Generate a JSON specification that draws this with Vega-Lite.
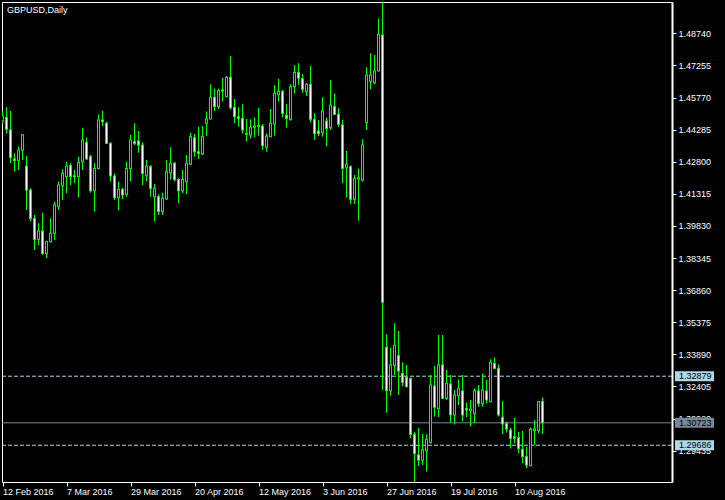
{
  "$schema": "https://vega.github.io/schema/vega-lite/v6.json",
  "width": 670,
  "height": 480,
  "autosize": "none",
  "padding": {"left": 2, "top": 2, "right": 53, "bottom": 18},
  "background": "black",
  "title": {"text": "GBPUSD,Daily", "anchor": "start", "frame": "group", "color": "white", "font": "Liberation Sans", "fontSize": 9, "fontWeight": "normal", "offset": -13, "dx": 5},
  "config": {
    "view": {"stroke": "white", "strokeWidth": 1},
    "axis": {"labelColor": "white", "tickColor": "white", "domainColor": "white", "labelFont": "Liberation Sans", "labelFontSize": 9, "grid": false, "title": null, "labelOverlap": false}
  },
  "datasets": {
    "bars": [
      {"date": "12 Feb 2016", "open": 1.4470, "high": 1.4512, "low": 1.4454, "close": 1.4491},
      {"date": "15 Feb 2016", "open": 1.4485, "high": 1.4532, "low": 1.4411, "close": 1.4430},
      {"date": "16 Feb 2016", "open": 1.4427, "high": 1.4515, "low": 1.4273, "close": 1.4300},
      {"date": "17 Feb 2016", "open": 1.4293, "high": 1.4319, "low": 1.4234, "close": 1.4285},
      {"date": "18 Feb 2016", "open": 1.4286, "high": 1.4350, "low": 1.4242, "close": 1.4334},
      {"date": "19 Feb 2016", "open": 1.4334, "high": 1.4408, "low": 1.4288, "close": 1.4404},
      {"date": "22 Feb 2016", "open": 1.4260, "high": 1.4306, "low": 1.4057, "close": 1.4149},
      {"date": "23 Feb 2016", "open": 1.4149, "high": 1.4157, "low": 1.4003, "close": 1.4018},
      {"date": "24 Feb 2016", "open": 1.4018, "high": 1.4034, "low": 1.3872, "close": 1.3921},
      {"date": "25 Feb 2016", "open": 1.3921, "high": 1.3995, "low": 1.3895, "close": 1.3960},
      {"date": "26 Feb 2016", "open": 1.3960, "high": 1.4044, "low": 1.3849, "close": 1.3856},
      {"date": "29 Feb 2016", "open": 1.3856, "high": 1.3915, "low": 1.3833, "close": 1.3910},
      {"date": "1 Mar 2016", "open": 1.3910, "high": 1.4018, "low": 1.3906, "close": 1.3949},
      {"date": "2 Mar 2016", "open": 1.3949, "high": 1.4095, "low": 1.3918, "close": 1.4080},
      {"date": "3 Mar 2016", "open": 1.4072, "high": 1.4188, "low": 1.4057, "close": 1.4172},
      {"date": "4 Mar 2016", "open": 1.4169, "high": 1.4245, "low": 1.4103, "close": 1.4226},
      {"date": "7 Mar 2016", "open": 1.4211, "high": 1.4280, "low": 1.4134, "close": 1.4260},
      {"date": "8 Mar 2016", "open": 1.4262, "high": 1.4273, "low": 1.4172, "close": 1.4211},
      {"date": "9 Mar 2016", "open": 1.4215, "high": 1.4242, "low": 1.4180, "close": 1.4211},
      {"date": "10 Mar 2016", "open": 1.4211, "high": 1.4303, "low": 1.4114, "close": 1.4277},
      {"date": "11 Mar 2016", "open": 1.4280, "high": 1.4437, "low": 1.4242, "close": 1.4380},
      {"date": "14 Mar 2016", "open": 1.4370, "high": 1.4391, "low": 1.4288, "close": 1.4293},
      {"date": "15 Mar 2016", "open": 1.4303, "high": 1.4311, "low": 1.4137, "close": 1.4146},
      {"date": "16 Mar 2016", "open": 1.4146, "high": 1.4273, "low": 1.4049, "close": 1.4249},
      {"date": "17 Mar 2016", "open": 1.4249, "high": 1.4499, "low": 1.4245, "close": 1.4473},
      {"date": "18 Mar 2016", "open": 1.4473, "high": 1.4515, "low": 1.4445, "close": 1.4465},
      {"date": "21 Mar 2016", "open": 1.4458, "high": 1.4465, "low": 1.4362, "close": 1.4365},
      {"date": "22 Mar 2016", "open": 1.4365, "high": 1.4370, "low": 1.4188, "close": 1.4214},
      {"date": "23 Mar 2016", "open": 1.4214, "high": 1.4226, "low": 1.4103, "close": 1.4115},
      {"date": "24 Mar 2016", "open": 1.4115, "high": 1.4188, "low": 1.4054, "close": 1.4152},
      {"date": "25 Mar 2016", "open": 1.4152, "high": 1.4160, "low": 1.4106, "close": 1.4126},
      {"date": "28 Mar 2016", "open": 1.4129, "high": 1.4280, "low": 1.4118, "close": 1.4249},
      {"date": "29 Mar 2016", "open": 1.4249, "high": 1.4404, "low": 1.4188, "close": 1.4380},
      {"date": "30 Mar 2016", "open": 1.4373, "high": 1.4458, "low": 1.4357, "close": 1.4365},
      {"date": "31 Mar 2016", "open": 1.4376, "high": 1.4422, "low": 1.4322, "close": 1.4357},
      {"date": "1 Apr 2016", "open": 1.4357, "high": 1.4370, "low": 1.4172, "close": 1.4226},
      {"date": "4 Apr 2016", "open": 1.4215, "high": 1.4288, "low": 1.4188, "close": 1.4260},
      {"date": "5 Apr 2016", "open": 1.4257, "high": 1.4265, "low": 1.4118, "close": 1.4157},
      {"date": "6 Apr 2016", "open": 1.4118, "high": 1.4177, "low": 1.4003, "close": 1.4157},
      {"date": "7 Apr 2016", "open": 1.4118, "high": 1.4129, "low": 1.4034, "close": 1.4049},
      {"date": "8 Apr 2016", "open": 1.4049, "high": 1.4137, "low": 1.4034, "close": 1.4111},
      {"date": "11 Apr 2016", "open": 1.4108, "high": 1.4288, "low": 1.4103, "close": 1.4234},
      {"date": "12 Apr 2016", "open": 1.4229, "high": 1.4347, "low": 1.4198, "close": 1.4273},
      {"date": "13 Apr 2016", "open": 1.4273, "high": 1.4280, "low": 1.4188, "close": 1.4198},
      {"date": "14 Apr 2016", "open": 1.4198, "high": 1.4203, "low": 1.4088, "close": 1.4146},
      {"date": "15 Apr 2016", "open": 1.4146, "high": 1.4242, "low": 1.4134, "close": 1.4198},
      {"date": "18 Apr 2016", "open": 1.4188, "high": 1.4311, "low": 1.4129, "close": 1.4273},
      {"date": "19 Apr 2016", "open": 1.4269, "high": 1.4414, "low": 1.4265, "close": 1.4396},
      {"date": "20 Apr 2016", "open": 1.4391, "high": 1.4408, "low": 1.4303, "close": 1.4326},
      {"date": "21 Apr 2016", "open": 1.4326, "high": 1.4442, "low": 1.4293, "close": 1.4319},
      {"date": "22 Apr 2016", "open": 1.4316, "high": 1.4445, "low": 1.4311, "close": 1.4396},
      {"date": "25 Apr 2016", "open": 1.4458, "high": 1.4512, "low": 1.4399, "close": 1.4478},
      {"date": "26 Apr 2016", "open": 1.4478, "high": 1.4638, "low": 1.4476, "close": 1.4578},
      {"date": "27 Apr 2016", "open": 1.4578, "high": 1.4619, "low": 1.4515, "close": 1.4535},
      {"date": "28 Apr 2016", "open": 1.4535, "high": 1.4619, "low": 1.4524, "close": 1.4609},
      {"date": "29 Apr 2016", "open": 1.4612, "high": 1.4669, "low": 1.4558, "close": 1.4607},
      {"date": "2 May 2016", "open": 1.4581, "high": 1.4676, "low": 1.4578, "close": 1.4670},
      {"date": "3 May 2016", "open": 1.4670, "high": 1.4769, "low": 1.4522, "close": 1.4530},
      {"date": "4 May 2016", "open": 1.4532, "high": 1.4570, "low": 1.4458, "close": 1.4488},
      {"date": "5 May 2016", "open": 1.4488, "high": 1.4532, "low": 1.4442, "close": 1.4481},
      {"date": "6 May 2016", "open": 1.4481, "high": 1.4547, "low": 1.4411, "close": 1.4427},
      {"date": "9 May 2016", "open": 1.4411, "high": 1.4478, "low": 1.4373, "close": 1.4407},
      {"date": "10 May 2016", "open": 1.4404, "high": 1.4476, "low": 1.4388, "close": 1.4439},
      {"date": "11 May 2016", "open": 1.4439, "high": 1.4485, "low": 1.4393, "close": 1.4445},
      {"date": "12 May 2016", "open": 1.4442, "high": 1.4530, "low": 1.4400, "close": 1.4448},
      {"date": "13 May 2016", "open": 1.4445, "high": 1.4454, "low": 1.4334, "close": 1.4354},
      {"date": "16 May 2016", "open": 1.4347, "high": 1.4411, "low": 1.4326, "close": 1.4399},
      {"date": "17 May 2016", "open": 1.4396, "high": 1.4524, "low": 1.4393, "close": 1.4458},
      {"date": "18 May 2016", "open": 1.4454, "high": 1.4635, "low": 1.4400, "close": 1.4596},
      {"date": "19 May 2016", "open": 1.4590, "high": 1.4663, "low": 1.4558, "close": 1.4606},
      {"date": "20 May 2016", "open": 1.4606, "high": 1.4612, "low": 1.4485, "close": 1.4504},
      {"date": "23 May 2016", "open": 1.4495, "high": 1.4547, "low": 1.4437, "close": 1.4481},
      {"date": "24 May 2016", "open": 1.4476, "high": 1.4638, "low": 1.4470, "close": 1.4627},
      {"date": "25 May 2016", "open": 1.4627, "high": 1.4727, "low": 1.4596, "close": 1.4693},
      {"date": "26 May 2016", "open": 1.4693, "high": 1.4735, "low": 1.4635, "close": 1.4666},
      {"date": "27 May 2016", "open": 1.4664, "high": 1.4686, "low": 1.4599, "close": 1.4615},
      {"date": "30 May 2016", "open": 1.4604, "high": 1.4643, "low": 1.4584, "close": 1.4638},
      {"date": "31 May 2016", "open": 1.4638, "high": 1.4723, "low": 1.4461, "close": 1.4476},
      {"date": "1 Jun 2016", "open": 1.4476, "high": 1.4504, "low": 1.4380, "close": 1.4411},
      {"date": "2 Jun 2016", "open": 1.4422, "high": 1.4473, "low": 1.4399, "close": 1.4411},
      {"date": "3 Jun 2016", "open": 1.4414, "high": 1.4578, "low": 1.4396, "close": 1.4515},
      {"date": "6 Jun 2016", "open": 1.4468, "high": 1.4484, "low": 1.4350, "close": 1.4434},
      {"date": "7 Jun 2016", "open": 1.4438, "high": 1.4658, "low": 1.4427, "close": 1.4542},
      {"date": "8 Jun 2016", "open": 1.4535, "high": 1.4596, "low": 1.4496, "close": 1.4499},
      {"date": "9 Jun 2016", "open": 1.4499, "high": 1.4527, "low": 1.4442, "close": 1.4453},
      {"date": "10 Jun 2016", "open": 1.4450, "high": 1.4473, "low": 1.4180, "close": 1.4249},
      {"date": "13 Jun 2016", "open": 1.4252, "high": 1.4330, "low": 1.4115, "close": 1.4269},
      {"date": "14 Jun 2016", "open": 1.4257, "high": 1.4262, "low": 1.4084, "close": 1.4106},
      {"date": "15 Jun 2016", "open": 1.4106, "high": 1.4219, "low": 1.4084, "close": 1.4203},
      {"date": "16 Jun 2016", "open": 1.4200, "high": 1.4249, "low": 1.4007, "close": 1.4206},
      {"date": "17 Jun 2016", "open": 1.4195, "high": 1.4384, "low": 1.4188, "close": 1.4357},
      {"date": "20 Jun 2016", "open": 1.4461, "high": 1.4717, "low": 1.4427, "close": 1.4681},
      {"date": "21 Jun 2016", "open": 1.4650, "high": 1.4781, "low": 1.4615, "close": 1.4681},
      {"date": "22 Jun 2016", "open": 1.4646, "high": 1.4774, "low": 1.4638, "close": 1.4700},
      {"date": "23 Jun 2016", "open": 1.4700, "high": 1.4943, "low": 1.4697, "close": 1.4869},
      {"date": "24 Jun 2016", "open": 1.4866, "high": 1.5018, "low": 1.3224, "close": 1.3630},
      {"date": "27 Jun 2016", "open": 1.3422, "high": 1.3482, "low": 1.3119, "close": 1.3221},
      {"date": "28 Jun 2016", "open": 1.3221, "high": 1.3420, "low": 1.3198, "close": 1.3340},
      {"date": "29 Jun 2016", "open": 1.3337, "high": 1.3533, "low": 1.3294, "close": 1.3431},
      {"date": "30 Jun 2016", "open": 1.3384, "high": 1.3497, "low": 1.3201, "close": 1.3312},
      {"date": "1 Jul 2016", "open": 1.3301, "high": 1.3352, "low": 1.3240, "close": 1.3260},
      {"date": "4 Jul 2016", "open": 1.3284, "high": 1.3340, "low": 1.3236, "close": 1.3240},
      {"date": "5 Jul 2016", "open": 1.3278, "high": 1.3281, "low": 1.3001, "close": 1.3019},
      {"date": "6 Jul 2016", "open": 1.3019, "high": 1.3031, "low": 1.2800, "close": 1.2931},
      {"date": "7 Jul 2016", "open": 1.2924, "high": 1.3050, "low": 1.2873, "close": 1.2900},
      {"date": "8 Jul 2016", "open": 1.2900, "high": 1.3021, "low": 1.2877, "close": 1.2947},
      {"date": "11 Jul 2016", "open": 1.2944, "high": 1.3019, "low": 1.2846, "close": 1.2996},
      {"date": "12 Jul 2016", "open": 1.2981, "high": 1.3294, "low": 1.2977, "close": 1.3247},
      {"date": "13 Jul 2016", "open": 1.3243, "high": 1.3335, "low": 1.3101, "close": 1.3144},
      {"date": "14 Jul 2016", "open": 1.3139, "high": 1.3479, "low": 1.3098, "close": 1.3340},
      {"date": "15 Jul 2016", "open": 1.3340, "high": 1.3479, "low": 1.3181, "close": 1.3186},
      {"date": "18 Jul 2016", "open": 1.3186, "high": 1.3317, "low": 1.3178, "close": 1.3255},
      {"date": "19 Jul 2016", "open": 1.3252, "high": 1.3294, "low": 1.3073, "close": 1.3109},
      {"date": "20 Jul 2016", "open": 1.3109, "high": 1.3224, "low": 1.3065, "close": 1.3201},
      {"date": "21 Jul 2016", "open": 1.3198, "high": 1.3273, "low": 1.3155, "close": 1.3232},
      {"date": "22 Jul 2016", "open": 1.3220, "high": 1.3294, "low": 1.3078, "close": 1.3109},
      {"date": "25 Jul 2016", "open": 1.3139, "high": 1.3166, "low": 1.3098, "close": 1.3132},
      {"date": "26 Jul 2016", "open": 1.3129, "high": 1.3178, "low": 1.3055, "close": 1.3136},
      {"date": "27 Jul 2016", "open": 1.3116, "high": 1.3232, "low": 1.3070, "close": 1.3221},
      {"date": "28 Jul 2016", "open": 1.3220, "high": 1.3247, "low": 1.3147, "close": 1.3162},
      {"date": "29 Jul 2016", "open": 1.3162, "high": 1.3301, "low": 1.3147, "close": 1.3224},
      {"date": "1 Aug 2016", "open": 1.3220, "high": 1.3270, "low": 1.3162, "close": 1.3178},
      {"date": "2 Aug 2016", "open": 1.3170, "high": 1.3366, "low": 1.3167, "close": 1.3352},
      {"date": "3 Aug 2016", "open": 1.3347, "high": 1.3374, "low": 1.3320, "close": 1.3324},
      {"date": "4 Aug 2016", "open": 1.3324, "high": 1.3343, "low": 1.3101, "close": 1.3109},
      {"date": "5 Aug 2016", "open": 1.3098, "high": 1.3173, "low": 1.3019, "close": 1.3067},
      {"date": "8 Aug 2016", "open": 1.3070, "high": 1.3078, "low": 1.3027, "close": 1.3044},
      {"date": "9 Aug 2016", "open": 1.3039, "high": 1.3050, "low": 1.2954, "close": 1.3001},
      {"date": "10 Aug 2016", "open": 1.3008, "high": 1.3096, "low": 1.2977, "close": 1.3001},
      {"date": "11 Aug 2016", "open": 1.3005, "high": 1.3031, "low": 1.2931, "close": 1.2954},
      {"date": "12 Aug 2016", "open": 1.2950, "high": 1.3035, "low": 1.2885, "close": 1.2916},
      {"date": "15 Aug 2016", "open": 1.2916, "high": 1.2962, "low": 1.2862, "close": 1.2877},
      {"date": "16 Aug 2016", "open": 1.2874, "high": 1.3051, "low": 1.2871, "close": 1.3042},
      {"date": "17 Aug 2016", "open": 1.3036, "high": 1.3085, "low": 1.2970, "close": 1.3044},
      {"date": "18 Aug 2016", "open": 1.3036, "high": 1.3173, "low": 1.3024, "close": 1.3170},
      {"date": "19 Aug 2016", "open": 1.3170, "high": 1.3189, "low": 1.3021, "close": 1.30723}
    ],
    "levels": [
      {"level": 1.32879, "kind": "dashed"},
      {"level": 1.30723, "kind": "bid"},
      {"level": 1.29686, "kind": "dashed"}
    ]
  },
  "layer": [
    {
      "data": {"name": "levels"},
      "mark": {"type": "rule", "strokeWidth": 1},
      "encoding": {
        "y": {"field": "level", "type": "quantitative",
              "scale": {"domain": [1.27986, 1.50188], "zero": false, "nice": false},
              "axis": {"orient": "right", "values": [1.4874, 1.47255, 1.4577, 1.44285, 1.428, 1.41315, 1.3983, 1.38345, 1.3686, 1.35375, 1.3389, 1.32405, 1.3092, 1.29435],
                       "tickCount": 30, "format": ".5f", "tickSize": 4, "labelPadding": 2, "domainWidth": 2, "labelBaseline": "middle", "labelOverlap": false, "labelBound": false, "labelFlush": false}},
        "color": {"condition": {"test": "datum.kind == 'bid'", "value": "#778899"}, "value": "#add8e6"},
        "strokeDash": {"condition": {"test": "datum.kind == 'bid'", "value": [1, 0]}, "value": [4, 2]}
      }
    },
    {
      "data": {"name": "bars"},
      "mark": {"type": "bar", "size": 1, "color": "#00ff00", "clip": true},
      "encoding": {
        "x": {"field": "date", "type": "ordinal", "sort": null,
              "scale": {"type": "point", "range": [0.5, 540.5], "padding": 0},
              "axis": {"values": ["12 Feb 2016", "7 Mar 2016", "29 Mar 2016", "20 Apr 2016", "12 May 2016", "3 Jun 2016", "27 Jun 2016", "19 Jul 2016", "10 Aug 2016"],
                       "labelAngle": 0, "labelAlign": "left", "labelBaseline": "top", "tickSize": 4, "labelPadding": 1, "domain": false}},
        "y": {"field": "low", "type": "quantitative"},
        "y2": {"field": "high"}
      }
    },
    {
      "data": {"name": "bars"},
      "mark": {"type": "bar", "size": 3, "color": "#00ff00", "clip": true},
      "encoding": {
        "x": {"field": "date", "type": "ordinal", "sort": null},
        "y": {"field": "open", "type": "quantitative"},
        "y2": {"field": "close"}
      }
    },
    {
      "data": {"name": "bars"},
      "mark": {"type": "bar", "size": 1, "clip": true},
      "encoding": {
        "x": {"field": "date", "type": "ordinal", "sort": null},
        "y": {"field": "open", "type": "quantitative"},
        "y2": {"field": "close"},
        "fill": {"condition": {"test": "datum.open > datum.close", "value": "white"}, "value": "black"}
      }
    },
    {
      "data": {"name": "bars"},
      "mark": {"type": "tick", "size": 3, "thickness": 1, "color": "#00ff00", "opacity": 1, "clip": true},
      "encoding": {
        "x": {"field": "date", "type": "ordinal", "sort": null},
        "y": {"field": "open", "type": "quantitative"}
      }
    },
    {
      "data": {"name": "bars"},
      "mark": {"type": "tick", "size": 3, "thickness": 1, "color": "#00ff00", "opacity": 1, "clip": true},
      "encoding": {
        "x": {"field": "date", "type": "ordinal", "sort": null},
        "y": {"field": "close", "type": "quantitative"}
      }
    },
    {
      "data": {"name": "levels"},
      "mark": {"type": "rect", "xOffset": 3, "x2Offset": 42, "yOffset": -5, "y2Offset": 5},
      "encoding": {
        "x": {"value": "width"},
        "x2": {"value": "width"},
        "y": {"field": "level", "type": "quantitative"},
        "y2": {"field": "level"},
        "fill": {"condition": {"test": "datum.kind == 'bid'", "value": "#778899"}, "value": "#add8e6"}
      }
    },
    {
      "data": {"name": "levels"},
      "mark": {"type": "text", "align": "left", "baseline": "middle", "xOffset": 7, "color": "black", "font": "Liberation Sans", "fontSize": 9},
      "encoding": {
        "x": {"value": "width"},
        "y": {"field": "level", "type": "quantitative"},
        "text": {"field": "level", "type": "quantitative", "format": ".5f"}
      }
    }
  ]
}
